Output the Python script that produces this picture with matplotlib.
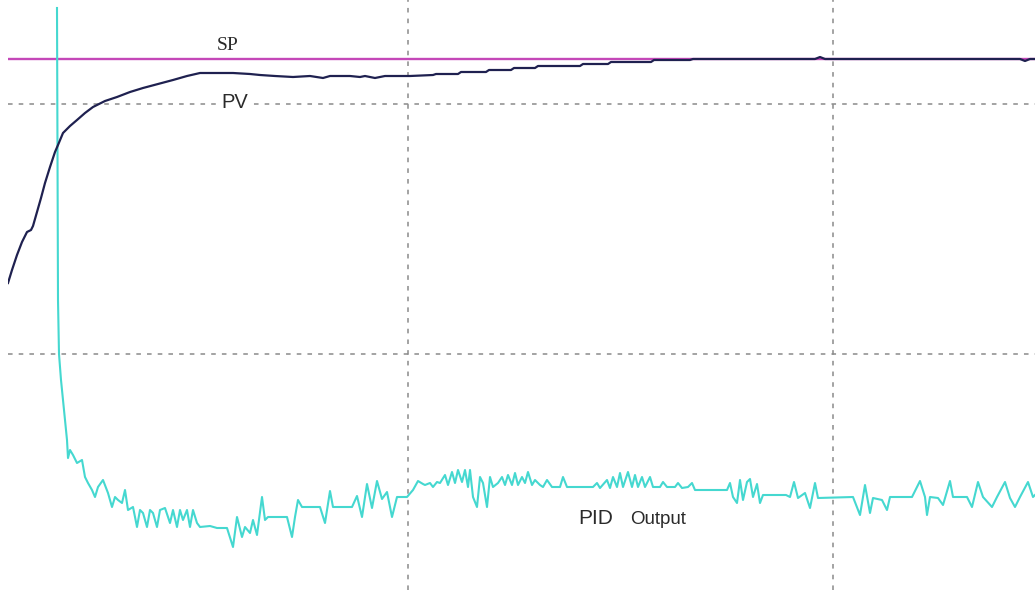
import matplotlib
matplotlib.use("Agg")
import matplotlib.pyplot as plt

# Time axis in samples, values in raw controller counts
sp_value = 531

pv_t = [8, 12, 17, 22, 27, 31, 33, 37, 41, 45, 50, 55, 58, 63, 70, 77, 85, 93,
        105, 117, 130, 143, 158, 173, 187, 200, 215, 233, 250, 260, 275, 293,
        310, 323, 330, 350, 360, 365, 375, 385, 410, 433, 436, 458, 461, 486,
        489, 511, 514, 535, 538, 580, 583, 608, 611, 651, 654, 690, 693, 815,
        820, 825, 1020, 1025, 1030, 1035]
pv_val = [307, 320, 335, 348, 358, 360, 364, 378, 392, 407, 423, 438, 445, 457,
          464, 470, 477, 483, 489, 493, 498, 502, 506, 510, 514, 517, 517, 517,
          516, 515, 514, 513, 514, 512, 514, 514, 513, 514, 512, 514, 514, 515,
          516, 516, 518, 518, 520, 520, 522, 522, 524, 524, 526, 526, 528, 528,
          530, 530, 531, 531, 533, 531, 531, 529, 531, 531]

out_t = [57, 58, 59, 61, 63, 65, 67, 68, 70, 73, 77, 82, 85, 88, 92, 95, 98,
         103, 108, 112, 115, 118, 122, 125, 128, 133, 137, 140, 143, 147, 150,
         153, 157, 160, 165, 170, 173, 177, 180, 183, 187, 190, 193, 197, 200,
         210, 217, 227, 233, 237, 242, 245, 250, 253, 257, 262, 265, 268, 287,
         292, 295, 298, 302, 320, 325, 330, 333, 352, 357, 362, 367, 372, 377,
         382, 387, 392, 397, 407, 413, 418, 423, 425, 430, 433, 437, 440, 445,
         448, 452, 455, 458, 462, 465, 468, 470, 473, 477, 480, 483, 487, 490,
         493, 498, 502, 505, 508, 512, 515, 518, 522, 525, 528, 532, 535, 540,
         543, 547, 552, 560, 563, 567, 593, 597, 600, 607, 610, 613, 617, 620,
         623, 628, 632, 635, 638, 642, 645, 650, 653, 660, 663, 667, 675, 678,
         682, 688, 692, 695, 727, 730, 733, 737, 740, 743, 747, 750, 753, 757,
         760, 763, 786, 790, 794, 798, 805, 810, 815, 818, 853, 860, 865, 870,
         873, 882, 887, 890, 912, 917, 920, 925, 927, 930, 938, 943, 950, 953,
         967, 972, 978, 983, 992, 997, 1005, 1010, 1015, 1020, 1028, 1033, 1035]
out_val = [582, 290, 236, 210, 190, 170, 150, 132, 140, 135, 127, 130, 113, 107,
           100, 93, 103, 110, 97, 83, 93, 90, 87, 100, 80, 83, 63, 80, 77, 63,
           80, 77, 63, 80, 82, 67, 80, 63, 80, 70, 80, 63, 80, 67, 63, 64, 62,
           62, 43, 73, 53, 63, 57, 70, 55, 93, 70, 73, 73, 53, 73, 90, 83, 83,
           67, 99, 83, 83, 94, 73, 106, 82, 109, 91, 98, 73, 93, 93, 100, 109,
           106, 105, 107, 103, 108, 107, 115, 105, 118, 107, 120, 108, 120, 103,
           120, 93, 83, 113, 107, 83, 113, 103, 107, 113, 105, 115, 105, 117,
           105, 113, 107, 118, 105, 110, 105, 103, 110, 103, 103, 113, 103, 103,
           107, 102, 110, 102, 113, 103, 117, 103, 118, 103, 115, 103, 113, 103,
           113, 103, 103, 108, 103, 103, 107, 102, 103, 107, 100, 100, 107, 93,
           87, 110, 90, 108, 111, 93, 106, 87, 95, 95, 93, 108, 92, 97, 82, 107,
           92, 93, 75, 105, 77, 92, 90, 80, 93, 93, 103, 109, 93, 75, 93, 92,
           85, 109, 93, 93, 83, 108, 93, 83, 93, 108, 92, 83, 93, 108, 93, 95]

grid_t = [408, 833]
grid_val = [236, 486]

fig = plt.figure(figsize=(10.35, 5.9), dpi=100)
ax = fig.add_axes([8 / 1035, 0, 1 - 8 / 1035, 1])
ax.set_xlim(8, 1035)
ax.set_ylim(0, 590)

ax.set_xticks(grid_t)
ax.set_yticks(grid_val)
ax.grid(True, color="#8a8a8a", linestyle=(0, (3, 4)), linewidth=1.1, zorder=0)
ax.tick_params(length=0, labelbottom=False, labelleft=False)
for s in ax.spines.values():
    s.set_visible(False)

ax.axhline(sp_value, color="#c447b8", linewidth=1.7, zorder=2)
ax.plot(out_t, out_val, color="#45d8d0", linewidth=1.5, zorder=3)
ax.plot(pv_t, pv_val, color="#1f2150", linewidth=1.6, zorder=4)

label_box = dict(facecolor="white", edgecolor="none", pad=1.5)
ax.text(228, 545, "SP", fontsize=14, family="Liberation Serif",
        ha="center", va="center", color="#2a2a2a", zorder=5)
ax.text(235, 487, "PV", fontsize=14.5, family="Liberation Sans",
        ha="center", va="center", color="#2a2a2a", bbox=label_box, zorder=5)
ax.text(578, 71, "PID", fontsize=15, family="Liberation Sans",
        ha="left", va="center", color="#2a2a2a", zorder=5)
ax.text(630, 70, "Output", fontsize=13.5, family="Liberation Sans",
        ha="left", va="center", color="#2a2a2a", zorder=5)

fig.savefig("out.png", dpi=100, facecolor="white")
